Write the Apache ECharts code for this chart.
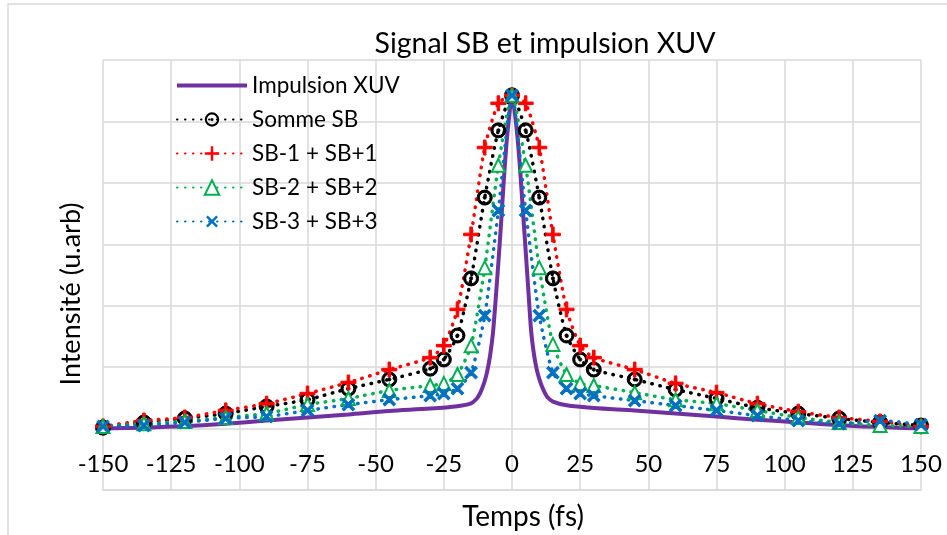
<!DOCTYPE html>
<html>
<head>
<meta charset="utf-8">
<script src="https://cdn.jsdelivr.net/npm/echarts@6/dist/echarts.min.js"></script>
<style>
html,body{margin:0;padding:0;background:#fff;}
#c{width:947px;height:535px;}
</style>
</head>
<body>
<div id="c"></div>
<script>
// ---------- data ----------
const titleText = 'Signal SB et impulsion XUV';
const xName = 'Temps (fs)';
const yName = 'Intensité (u.arb)';
const seriesNames = ['Impulsion XUV', 'Somme SB', 'SB-1 + SB+1', 'SB-2 + SB+2', 'SB-3 + SB+3'];
const xTicks = [-150, -125, -100, -75, -50, -25, 0, 25, 50, 75, 100, 125, 150];

// XUV pulse (dense sampling)
const xuvT = [-150,-135,-120,-105,-90,-75,-60,-45,-30,-20,-15,-13,-12,-11,-10,-9,-8,-7,-6,-5,-4,-3,-2,-1,0,
              1,2,3,4,5,6,7,8,9,10,11,12,13,15,20,30,45,60,75,90,105,120,135,150];
const xuvI = [0.000,0.003,0.008,0.016,0.026,0.036,0.046,0.057,0.065,0.073,0.082,0.097,0.110,0.130,0.155,0.190,0.240,0.310,0.420,0.540,0.670,0.810,0.930,1.020,1.085,
              1.030,0.950,0.840,0.710,0.580,0.450,0.320,0.245,0.195,0.162,0.137,0.117,0.102,0.088,0.076,0.067,0.059,0.049,0.039,0.029,0.020,0.011,0.005,0.000];

// Sideband signals (marker sampling)
const sbT = [-150,-135,-120,-105,-90,-75,-60,-45,-30,-25,-20,-15,-10,-5,0,5,10,15,20,25,30,45,60,75,90,105,120,135,150];
const sommeSB = [0.003,0.020,0.033,0.049,0.072,0.094,0.130,0.160,0.195,0.225,0.303,0.489,0.752,0.971,1.085,0.971,0.752,0.489,0.303,0.225,0.192,0.160,0.127,0.098,0.068,0.049,0.033,0.020,0.010];
const sb1 = [0.007,0.026,0.036,0.059,0.081,0.114,0.150,0.192,0.231,0.270,0.388,0.632,0.915,1.059,1.085,1.059,0.915,0.632,0.388,0.270,0.231,0.192,0.147,0.117,0.081,0.055,0.036,0.023,0.007];
const sb2 = [0.007,0.016,0.023,0.036,0.049,0.078,0.098,0.124,0.140,0.147,0.176,0.270,0.524,0.857,1.085,0.857,0.524,0.274,0.176,0.147,0.140,0.117,0.094,0.081,0.059,0.036,0.020,0.010,0.007];
const sb3 = [0.007,0.010,0.020,0.033,0.039,0.059,0.078,0.094,0.107,0.114,0.130,0.182,0.368,0.710,1.085,0.710,0.368,0.182,0.130,0.114,0.107,0.091,0.075,0.059,0.042,0.026,0.016,0.026,0.013];

// ---------- styling ----------
const FONT = 'Lato';
const GRID = '#D9D9D9';
const colors = ['#7030A0', '#000000', '#FF0000', '#00B050', '#0070C0'];

const ringDot = 'path://M0,10 A10,10 0 1,1 20,10 A10,10 0 1,1 0,10 Z M2.9,10 A7.1,7.1 0 1,0 17.1,10 A7.1,7.1 0 1,0 2.9,10 Z M7.9,10 A2.1,2.1 0 1,1 12.1,10 A2.1,2.1 0 1,1 7.9,10 Z';
const plus = 'path://M8.3,0 H11.7 V8.3 H20 V11.7 H11.7 V20 H8.3 V11.7 H0 V8.3 H8.3 Z';
const solidBar = 'path://M0,0 H70 V4 H0 Z';

function pairs(xs, ys) { return xs.map((x, i) => [x, ys[i]]); }

function dotted(name, color, ys, symbol, size, extra) {
  return Object.assign({
    name: name,
    type: 'line',
    data: pairs(sbT, ys),
    smooth: 0.2,
    symbol: symbol,
    symbolSize: size,
    showAllSymbol: true,
    lineStyle: { color: color, width: 3.5, type: [0.5, 7.5], cap: 'round' },
    itemStyle: { color: color, borderColor: color },
    emphasis: { disabled: true },
    animation: false
  }, extra || {});
}

const chart = echarts.init(document.getElementById('c'), null, { renderer: 'canvas' });
chart.setOption({
  backgroundColor: '#fff',
  animation: false,
  textStyle: { fontFamily: FONT },
  graphic: [
    { type: 'rect', z: -10, silent: true, shape: { x: 8, y: 4, width: 1000, height: 600 },
      style: { fill: 'none', stroke: GRID, lineWidth: 1.5 } },
    { type: 'text', x: 545, y: 44, silent: true,
      style: { text: titleText, fontFamily: FONT, fontSize: 28.5, fill: '#000', textAlign: 'center', textVerticalAlign: 'middle' } }
  ],
  grid: { left: 103, right: 26, top: 60, bottom: 45, containLabel: false, outerBoundsMode: 'none' },
  legend: {
    orient: 'vertical',
    left: 176, top: 74, padding: 0,
    itemWidth: 70, itemHeight: 18, itemGap: 11,
    textStyle: { fontFamily: FONT, fontSize: 22.5, lineHeight: 22, color: '#000' },
    data: [{ name: seriesNames[0], icon: solidBar }, seriesNames[1], seriesNames[2], seriesNames[3], seriesNames[4]]
  },
  xAxis: {
    type: 'value', min: -150, max: 150, interval: 25,
    name: xName, nameLocation: 'middle', nameGap: 13,
    nameTextStyle: { fontFamily: FONT, fontSize: 28, color: '#000', padding: [0, 0, 0, 22] },
    axisLine: { show: true, onZero: false, lineStyle: { color: GRID, width: 1.5 } },
    axisTick: { show: false },
    axisLabel: { fontFamily: FONT, fontSize: 24, color: '#000', margin: -38 },
    splitLine: { show: true, lineStyle: { color: GRID, width: 1.5 } }
  },
  yAxis: {
    type: 'value', min: -0.2, max: 1.2, interval: 0.2,
    name: yName, nameLocation: 'middle', nameGap: 18,
    nameTextStyle: { fontFamily: FONT, fontSize: 27, color: '#000', padding: [0, 38, 0, 0] },
    axisLine: { show: false, onZero: false }, axisTick: { show: false },
    axisLabel: { show: false },
    splitLine: { show: true, lineStyle: { color: GRID, width: 1.5 } }
  },
  series: [
    { name: seriesNames[0], type: 'line', data: pairs(xuvT, xuvI), smooth: 0.3, symbol: 'none',
      lineStyle: { color: colors[0], width: 4 }, itemStyle: { color: colors[0] }, emphasis: { disabled: true } },
    dotted(seriesNames[1], colors[1], sommeSB, ringDot, 15),
    dotted(seriesNames[2], colors[2], sb1, plus, 15),
    dotted(seriesNames[3], colors[3], sb2, 'emptyTriangle', 13, { itemStyle: { color: colors[3], borderColor: colors[3], borderWidth: 2 } }),
    dotted(seriesNames[4], colors[4], sb3, plus, 15, { symbolRotate: 45 })
  ]
});
</script>
</body>
</html>
